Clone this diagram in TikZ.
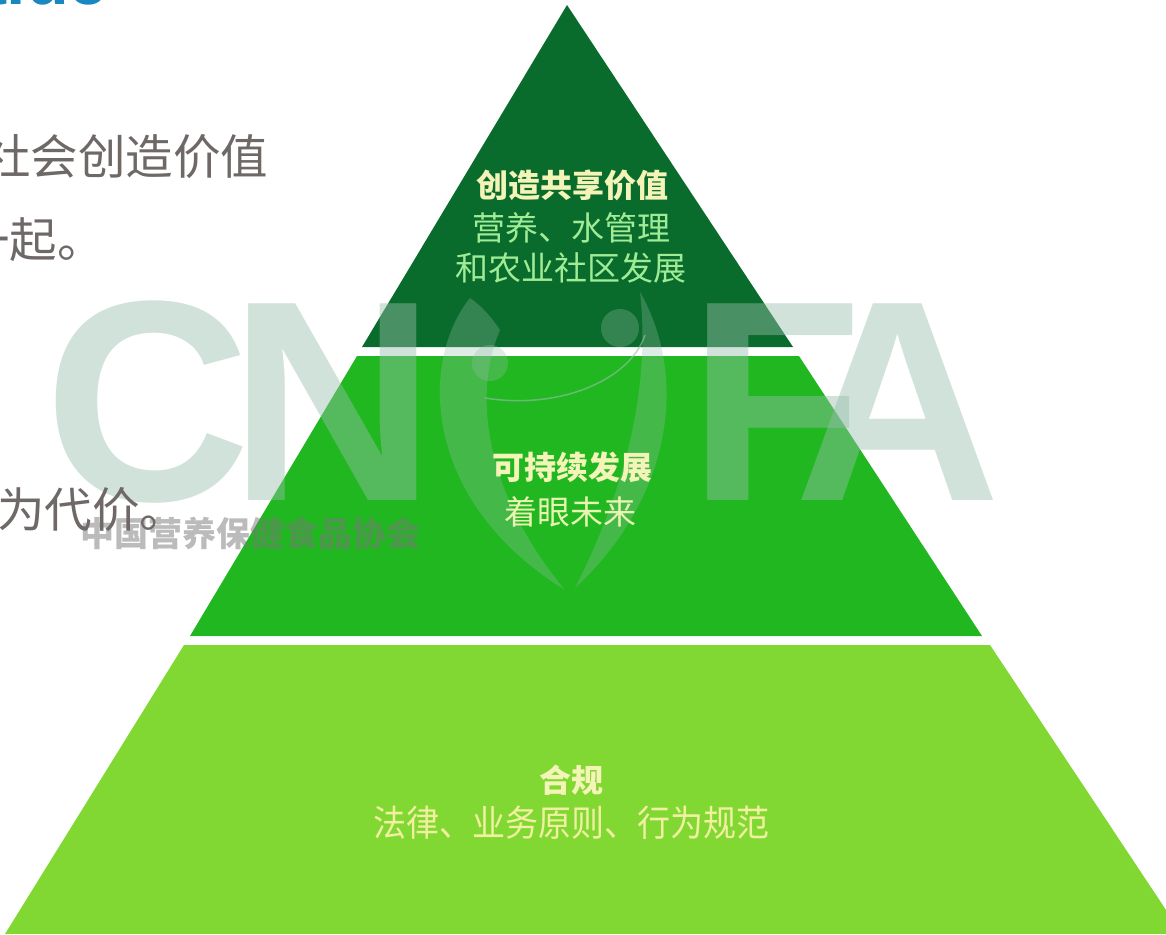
\documentclass[tikz,border=0pt]{standalone}
\usepackage{fontspec}
\setmainfont{Noto Sans CJK SC}
\newfontfamily\wmfont{Liberation Sans}
\definecolor{tierA}{RGB}{10,108,44}
\definecolor{tierB}{RGB}{33,183,33}
\definecolor{tierC}{RGB}{130,216,50}
\definecolor{titlecol}{RGB}{244,244,184}
\definecolor{subA}{RGB}{160,236,150}
\definecolor{subB}{RGB}{232,244,176}
\definecolor{subC}{RGB}{240,240,160}
\definecolor{graytext}{RGB}{110,104,102}
\definecolor{bluetitle}{RGB}{24,136,192}
\definecolor{wmcol}{RGB}{150,190,170}
\definecolor{wmgray}{RGB}{120,120,120}
\tikzset{
  tiertitle/.style={font=\fontsize{32}{36}\selectfont\bfseries, text=titlecol, inner sep=0pt},
  tiersub/.style={font=\fontsize{33}{38}\selectfont, inner sep=0pt},
  lefttext/.style={font=\fontsize{47.5}{52}\selectfont, text=graytext, inner sep=0pt, anchor=west},
  wmletter/.style={font=\wmfont\bfseries\fontsize{286}{290}\selectfont, text=wmcol, text opacity=0.45, inner sep=0pt, anchor=base},
  wmlogo/.style={fill=wmcol, fill opacity=0.3}
}
\begin{document}
\begin{tikzpicture}[x=1pt,y=-1pt]
\useasboundingbox (0,0) rectangle (1166,934);
\clip (0,0) rectangle (1166,934);
% pyramid tiers
\fill[tierA] (567,5) -- (793,347) -- (362,347) -- cycle;
\fill[tierB] (357,356) -- (799,356) -- (982,636) -- (190,636) -- cycle;
\fill[tierC] (184,645) -- (990,645) -- (1182,934) -- (5,934) -- cycle;
% watermark
\node[wmletter] (wmC) at (148,500) {C};
\node[wmletter] (wmN) at (333,500) {N};
\node[wmletter] (wmF) at (776,500) {F};
\node[wmletter] (wmA) at (898,500) {A};
\fill[wmlogo] (470,298) .. controls (420,360) and (420,500) .. (565,590)
  .. controls (490,500) and (470,400) .. (500,330) .. controls (490,315) and (480,305) .. (470,298) -- cycle;
\fill[wmlogo] (640,292) .. controls (690,380) and (670,500) .. (575,588)
  .. controls (630,480) and (650,380) .. (640,292) -- cycle;
\fill[wmlogo] (490,363) circle[radius=18];
\fill[wmlogo] (620,328) circle[radius=19];
\draw[wmcol, opacity=0.6, line width=1.5pt] (485,398) .. controls (560,410) and (630,380) .. (645,335);
\node[font=\fontsize{34}{38}\selectfont\bfseries, text=wmgray, text opacity=0.5, inner sep=0pt] (wmtext) at (250,533) {中国营养保健食品协会};
% left partial texts
\node[font=\wmfont\bfseries\fontsize{70}{74}\selectfont, text=bluetitle, inner sep=0pt, anchor=base east] (title) at (108,5) {Value};
\node[lefttext] (l1) at (-17,157) {社会创造价值};
\node[lefttext] (l2) at (-38,240) {一起。};
\node[lefttext] (l3) at (-3,510) {为代价。};
% tier texts
\node[tiertitle] (t1) at (572,185) {创造共享价值};
\node[tiersub, text=subA] (s1a) at (571,228) {营养、水管理};
\node[tiersub, text=subA] (s1b) at (571,268) {和农业社区发展};
\node[tiertitle] (t2) at (572,467) {可持续发展};
\node[tiersub, text=subB] (s2) at (570,512) {着眼未来};
\node[tiertitle] (t3) at (571,780) {合规};
\node[tiersub, text=subC, yscale=1.1] (s3) at (571,823) {法律、业务原则、行为规范};
\end{tikzpicture}
\end{document}
